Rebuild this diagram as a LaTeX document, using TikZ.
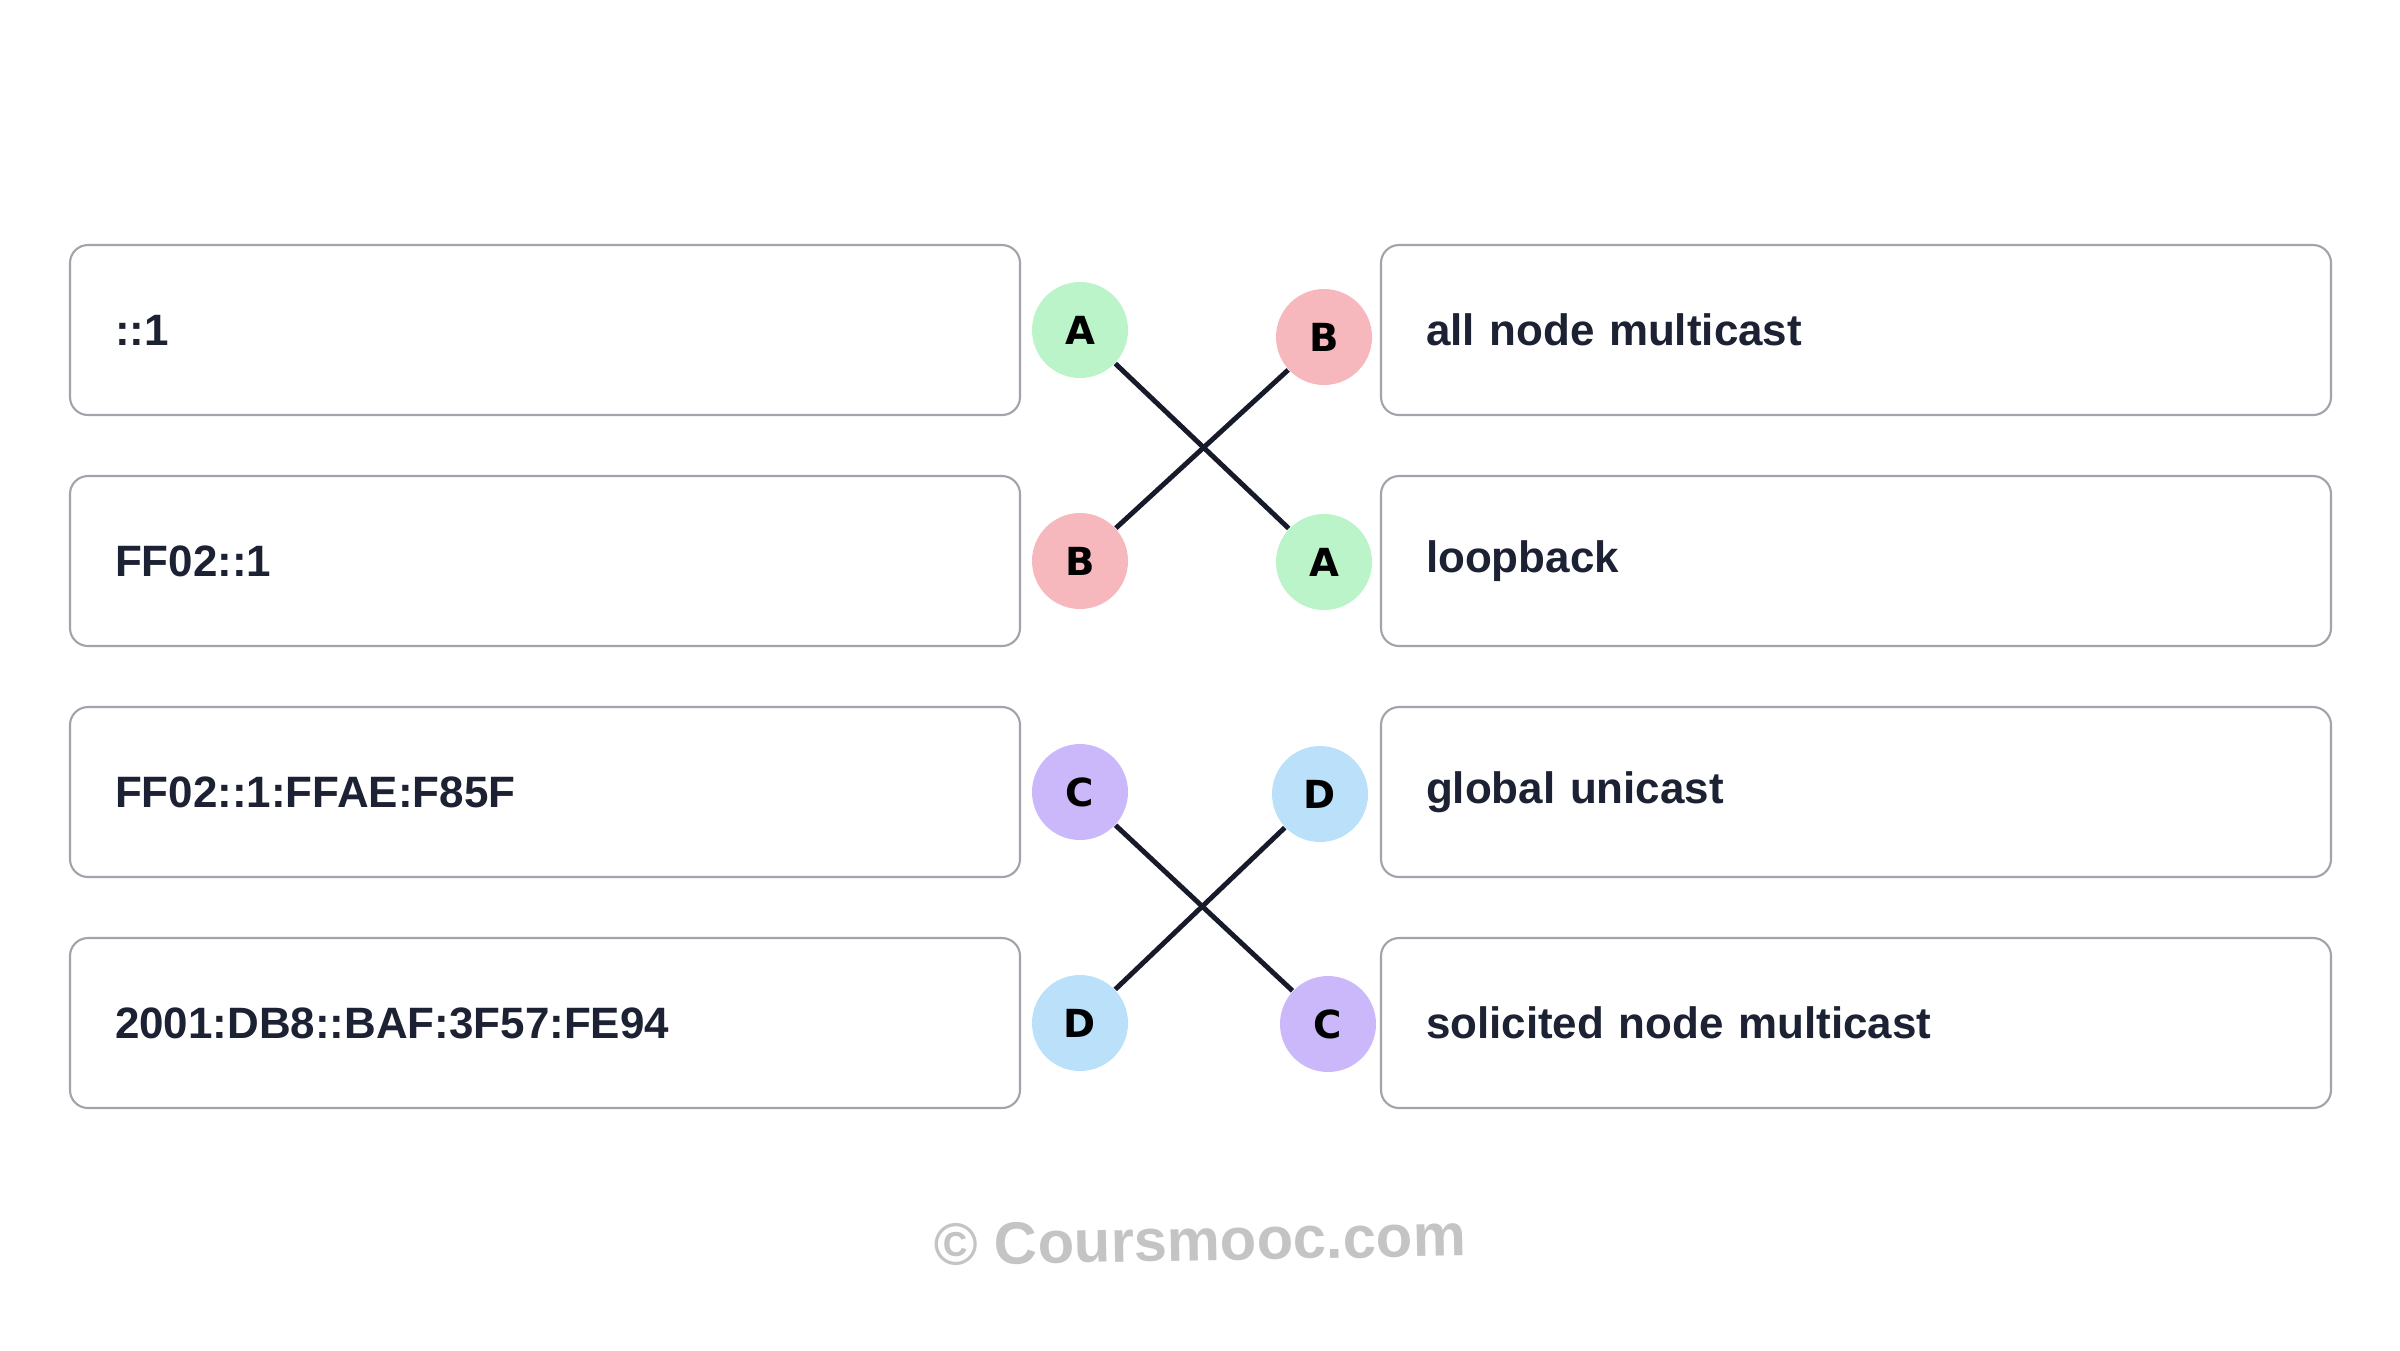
\documentclass[tikz,border=0pt]{standalone}
\usepackage{fontspec}
\setmainfont{Liberation Sans}
\newfontfamily\letterfont{DejaVu Sans}

\definecolor{textnavy}{HTML}{1C2233}
\definecolor{boxgrey}{HTML}{A2A3AB}
\definecolor{linkdark}{HTML}{161A2B}
\definecolor{tagA}{HTML}{BBF4C8}
\definecolor{tagB}{HTML}{F7B8BD}
\definecolor{tagC}{HTML}{CBB8FA}
\definecolor{tagD}{HTML}{BAE0FA}
\definecolor{markgrey}{HTML}{C4C4C4}

\begin{document}
\begin{tikzpicture}[
	item/.style={draw=boxgrey, line width=0.6pt, rounded corners=0.18cm, fill=white,
		minimum width=9.5cm, minimum height=1.7cm, inner xsep=0.45cm,
		text width=8.6cm, align=left, text=textnavy,
		font=\fontsize{12.5}{14}\selectfont\bfseries},
	tag/.style={circle, inner sep=0pt, minimum size=0.96cm,
		font=\letterfont\fontsize{11}{12}\selectfont\bfseries},
	link/.style={draw=linkdark, line width=1.4pt}
	]

	\useasboundingbox (0,0) rectangle (24,-13.5);

	% Boxes on the left
	\node[item] (L1) at (5.45, -3.30) {::1};
	\node[item] (L2) at (5.45, -5.61) {FF02::1};
	\node[item] (L3) at (5.45, -7.92) {FF02::1:FFAE:F85F};
	\node[item] (L4) at (5.45, -10.23) {2001:DB8::BAF:3F57:FE94};

	% Boxes on the right
	\node[item] (R1) at (18.56, -3.30) {all node multicast};
	\node[item] (R2) at (18.56, -5.61) {loopback};
	\node[item] (R3) at (18.56, -7.92) {global unicast};
	\node[item] (R4) at (18.56, -10.23) {solicited node multicast};

	% Letters circled
	\node[tag, fill=tagA] (A1) at (10.80, -3.30) {A};
	\node[tag, fill=tagB] (B1) at (10.80, -5.61) {B};
	\node[tag, fill=tagC] (C1) at (10.80, -7.92) {C};
	\node[tag, fill=tagD] (D1) at (10.80, -10.23) {D};

	\node[tag, fill=tagB] (B2) at (13.24, -3.37) {B};
	\node[tag, fill=tagA] (A2) at (13.24, -5.62) {A};
	\node[tag, fill=tagD] (D2) at (13.20, -7.94) {D};
	\node[tag, fill=tagC] (C2) at (13.28, -10.24) {C};

	% Matching lines
	\draw[link] (A1) -- (A2);
	\draw[link] (B1) -- (B2);
	\draw[link] (C1) -- (C2);
	\draw[link] (D1) -- (D2);

	% Watermark
	\node[text=markgrey, rotate=1, font=\fontsize{17}{20}\selectfont\bfseries] (mark) at (12.00, -12.40) {© Coursmooc.com};
\end{tikzpicture}
\end{document}
